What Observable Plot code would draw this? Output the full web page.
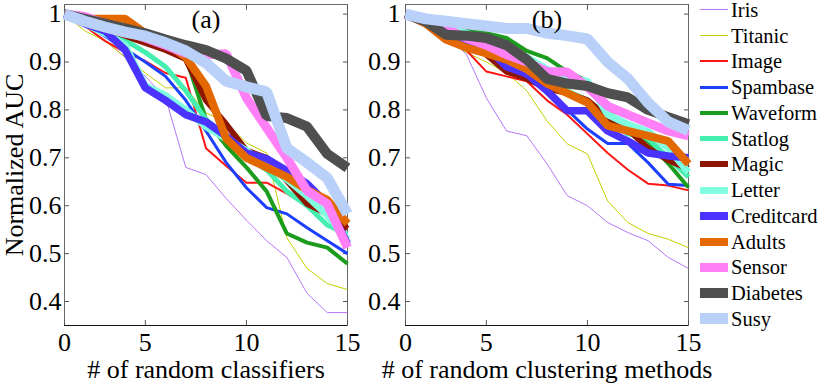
<!DOCTYPE html>
<html><head><meta charset="utf-8">
<script src="https://cdn.jsdelivr.net/npm/d3@7"></script>
<script src="https://cdn.jsdelivr.net/npm/@observablehq/plot@0.6"></script>
<style>
body{margin:0;background:#fff;font-family:"Liberation Serif",Tinos,"Times New Roman",Times,"DejaVu Serif",serif;}
#fig{position:relative;width:830px;height:384px;overflow:hidden;}
#a{position:absolute;left:0;top:0}
#b{position:absolute;left:355px;top:0}
#legend{position:absolute;left:700px;top:-3px}
.row{height:25.75px;display:flex;align-items:center;font-size:20.5px;color:#000;white-space:nowrap}
.row .t{line-height:18px}
.sw{width:28px;margin-right:3px;display:inline-block}
</style></head><body>
<div id="fig"><div id="a"></div><div id="b"></div><div id="legend"></div></div>
<script>
// ---- data ----
const names = ["Iris","Titanic","Image","Spambase","Waveform","Statlog","Magic","Letter","Creditcard","Adults","Sensor","Diabetes","Susy"];
const colors = ["#b777f7","#c4d000","#ff1414","#1d3fff","#1c9c1c","#44efb0","#8e1600","#80ffe0","#4b33ff","#e36800","#ff80f6","#4f4f4f","#b9d1f8"];
const widths = [1,1,2,3,4,5,6,7,7.5,8,9,10,11];
const steps = [1,2,3,4,5,6,7,8,9,10,11,12,13,14,15];
const xTickValues = [1,5,10,15];
const xTickLabels = ["0","5","10","15"];
const yTicks = [0.4,0.5,0.6,0.7,0.8,0.9,1];
const yTickLabels = ["0.4","0.5","0.6","0.7","0.8","0.9","1"];
const yDomain = [0.35,1.02];

// panel (a): # of random classifiers
const irisA       = [1,0.975,0.945,0.91,0.87,0.825,0.68,0.665,0.615,0.57,0.527,0.492,0.417,0.377,0.377];
const titanicA    = [1,0.965,0.944,0.91,0.877,0.846,0.846,0.794,0.773,0.731,0.71,0.533,0.469,0.4375,0.425];
const imageA      = [1,0.975,0.944,0.92,0.902,0.877,0.867,0.72,0.683,0.648,0.648,0.625,0.6,0.583,0.558];
const spambaseA   = [1,0.98,0.954,0.927,0.9,0.87,0.82,0.756,0.69,0.6375,0.596,0.583,0.554,0.527,0.5];
const waveformA   = [1,0.98,0.965,0.95,0.94,0.933,0.91,0.78,0.725,0.68,0.63,0.542,0.523,0.5125,0.479];
const statlogA    = [1,0.985,0.965,0.945,0.92,0.89,0.84,0.78,0.745,0.7,0.675,0.63,0.6,0.56,0.54];
const magicA      = [1,0.985,0.97,0.955,0.94,0.925,0.906,0.82,0.77,0.715,0.7,0.652,0.604,0.583,0.552];
const letterA     = [1,0.98,0.96,0.935,0.85,0.83,0.8,0.765,0.74,0.715,0.685,0.655,0.62,0.58,0.53];
const creditcardA = [1,0.98,0.965,0.925,0.846,0.82,0.79,0.775,0.745,0.71,0.698,0.673,0.646,0.604,0.52];
const adultsA     = [1,0.99,0.99,0.99,0.96,0.94,0.91,0.85,0.74,0.7,0.68,0.66,0.633,0.6125,0.5625];
const sensorA     = [1,0.995,0.98,0.965,0.95,0.935,0.918,0.915,0.917,0.825,0.7625,0.7,0.631,0.604,0.5125];
const diabetesA   = [1,0.99,0.98,0.97,0.96,0.947,0.935,0.925,0.907,0.882,0.787,0.783,0.765,0.708,0.679];
const susyA       = [1,0.985,0.973,0.9625,0.954,0.94,0.923,0.898,0.86,0.848,0.8375,0.72,0.69,0.658,0.583];

// panel (b): # of random clustering methods
const irisB       = [1,0.985,0.955,0.917,0.825,0.756,0.746,0.6875,0.621,0.6,0.565,0.544,0.527,0.492,0.469];
const titanicB    = [1,0.985,0.95,0.92,0.9,0.877,0.84,0.777,0.729,0.708,0.61,0.565,0.542,0.53,0.5125];
const imageB      = [1,0.975,0.955,0.925,0.88,0.87,0.86,0.82,0.79,0.75,0.71,0.675,0.646,0.642,0.632];
const spambaseB   = [1,0.98,0.96,0.94,0.92,0.9,0.875,0.835,0.8,0.76,0.73,0.73,0.69,0.645,0.642];
const waveformB   = [1,0.99,0.98,0.97,0.96,0.95,0.923,0.908,0.88,0.86,0.8,0.76,0.735,0.688,0.638];
const statlogB    = [1,0.99,0.975,0.96,0.94,0.92,0.9,0.87,0.84,0.82,0.78,0.75,0.74,0.7,0.66];
const magicB      = [1,0.985,0.965,0.95,0.915,0.88,0.865,0.845,0.835,0.82,0.785,0.76,0.72,0.695,0.677];
const letterB     = [1,0.99,0.975,0.96,0.945,0.93,0.91,0.885,0.865,0.86,0.79,0.77,0.755,0.72,0.67];
const creditcardB = [1,0.98,0.96,0.945,0.93,0.89,0.875,0.84,0.798,0.798,0.756,0.735,0.71,0.704,0.7];
const adultsB     = [1,0.98,0.947,0.93,0.918,0.905,0.885,0.855,0.835,0.815,0.767,0.756,0.746,0.735,0.6875];
const sensorB     = [1,0.985,0.97,0.95,0.935,0.915,0.9,0.88,0.879,0.848,0.808,0.79,0.773,0.756,0.746];
const diabetesB   = [1,0.985,0.957,0.955,0.95,0.935,0.905,0.865,0.855,0.85,0.835,0.826,0.8,0.785,0.77];
const susyB       = [1,0.99,0.985,0.98,0.975,0.97,0.97,0.96,0.955,0.948,0.9,0.865,0.815,0.775,0.757];

const seriesA = [irisA,titanicA,imageA,spambaseA,waveformA,statlogA,magicA,letterA,creditcardA,adultsA,sensorA,diabetesA,susyA];
const seriesB = [irisB,titanicB,imageB,spambaseB,waveformB,statlogB,magicB,letterB,creditcardB,adultsB,sensorB,diabetesB,susyB];

const yLabel = "Normalized AUC";
const xLabelA = "# of random classifiers";
const xLabelB = "# of random clustering methods";

// ---- chart ----
const FS = 26;
const FONT = '"Liberation Serif",Tinos,"Times New Roman",Times,"DejaVu Serif",serif';
function panel(series, tag, xLabel, withYLabel, dims) {
  const rows = series.map((vals, i) => vals.map((v, j) => ({name: names[i], step: steps[j], auc: v})));
  const marks = [
    Plot.frame({stroke: "#6a6a6a"}),
    Plot.ruleY([yDomain[0]], {stroke: "#111", strokeWidth: 1.2}),
    Plot.axisY(yTicks, {anchor: "left", tickSize: -5, tickFormat: () => "", label: null, stroke: "#555"}),
    Plot.axisY(yTicks, {anchor: "right", tickSize: -5, tickFormat: () => "", label: null, stroke: "#555"}),
    Plot.axisX(xTickValues, {anchor: "bottom", tickSize: -5, tickFormat: () => "", label: null, stroke: "#555"}),
    Plot.axisX(xTickValues, {anchor: "top", tickSize: -5, tickFormat: () => "", label: null, stroke: "#555"}),
    Plot.axisY(yTicks, {anchor: "left", tickSize: 0, tickPadding: dims.yPad, fontSize: FS, label: null,
      tickFormat: d => yTickLabels[yTicks.indexOf(d)]}),
    Plot.axisX(xTickValues, {anchor: "bottom", tickSize: 0, tickPadding: 7, fontSize: FS, label: null,
      tickFormat: d => xTickLabels[xTickValues.indexOf(d)]}),
    ...rows.map((r, i) => Plot.line(r, {x: "step", y: "auc", stroke: "name", strokeWidth: widths[i],
      strokeLinejoin: "miter", strokeLinecap: "butt"})),
    Plot.text([tag], {text: d => d, frameAnchor: "top", lineAnchor: "middle", dy: 15, fontSize: FS}),
    Plot.text([xLabel], {text: d => d, frameAnchor: "bottom", lineAnchor: "middle", dy: 44, fontSize: FS})
  ];
  if (withYLabel) marks.push(Plot.text([yLabel], {text: d => d, frameAnchor: "left", textAnchor: "middle",
    lineAnchor: "middle", rotate: -90, dx: -50, fontSize: FS}));
  return Plot.plot({
    width: dims.width, height: 384,
    marginLeft: dims.ml, marginRight: dims.mr, marginTop: 4, marginBottom: 59,
    x: {domain: [steps[0], steps[steps.length - 1]]},
    y: {domain: yDomain},
    color: {domain: names, range: colors},
    style: {fontFamily: FONT, color: "#000", background: "transparent", overflow: "visible"},
    marks
  });
}

document.getElementById("a").append(panel(seriesA, "(a)", xLabelA, true, {width: 355, ml: 64, mr: 8, yPad: 3}));
document.getElementById("b").append(panel(seriesB, "(b)", xLabelB, false, {width: 342, ml: 50, mr: 9, yPad: 5}));

const leg = d3.select("#legend");
names.forEach((n, i) => {
  const row = leg.append("div").attr("class", "row");
  row.append("span").attr("class", "sw").style("height", widths[i] + "px").style("background", colors[i]);
  row.append("span").attr("class", "t").text(n);
});
</script>
</body></html>
